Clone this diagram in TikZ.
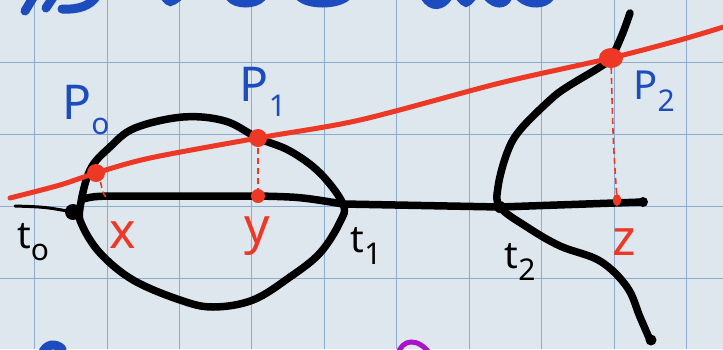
\documentclass[tikz,border=0pt]{standalone}
\usepackage{fontspec}
\setmainfont{Noto Sans}
\usepackage{xcolor}
\usepackage{tikz}
\usetikzlibrary{calc}
\definecolor{paper}{RGB}{223,231,238}
\definecolor{gridblue}{RGB}{140,172,205}
\definecolor{inkblue}{RGB}{28,76,190}
\definecolor{inkred}{RGB}{236,56,36}
\definecolor{inkpurple}{RGB}{170,20,200}
\newcommand{\hsub}[1]{\raisebox{-0.3em}{\fontsize{30}{30}\selectfont #1}}

\begin{document}
\begin{tikzpicture}[x=1pt,y=-1pt,
  gridline/.style={draw=gridblue,line width=0.7pt},
  ink/.style={draw=black,line width=7.5pt,line cap=round,line join=round},
  redink/.style={draw=inkred,line width=5pt,line cap=round},
  reddash/.style={draw=inkred,line width=1.6pt,dash pattern=on 6pt off 4pt},
  blueink/.style={draw=inkblue,line width=9pt,line cap=round},
  bluelbl/.style={text=inkblue,font=\fontsize{50}{50}\selectfont,inner sep=0pt},
  blacklbl/.style={text=black,font=\bfseries\fontsize{38}{38}\selectfont,inner sep=0pt},
  redlbl/.style={text=inkred,font=\bfseries\fontsize{50}{50}\selectfont,inner sep=0pt}
]
\fill[paper] (0,0) rectangle (723,349);
\useasboundingbox (0,0) rectangle (723,349);
\begin{scope}
\clip (0,0) rectangle (723,349);
\foreach \gx in {34.5,107,179,251,324,396,469,541,614,686}
  \draw[gridline] (\gx,0) -- (\gx,349);
\foreach \gy in {62,134,206,278}
  \draw[gridline] (0,\gy) -- (723,\gy);

\draw[blueink] (25,11) .. controls (30,3) .. (34,-4);
\draw[blueink] (46,8) .. controls (50,2) .. (54,-4);
\draw[blueink] (62,9) .. controls (80,10) and (90,5) .. (96,-3);
\draw[blueink] (165,-3) .. controls (170,3) .. (178,-3);
\draw[blueink] (230,-3) .. controls (236,5) and (255,5) .. (262,-3);
\draw[blueink] (300,-3) .. controls (310,5) and (335,5) .. (346,-3);
\draw[blueink] (425,-3) .. controls (432,8) and (442,6) .. (448,-3);
\draw[blueink] (460,-3) .. controls (466,4) .. (472,-3);
\draw[blueink] (488,-3) .. controls (496,5) and (504,5) .. (508,-3);
\draw[blueink] (520,-3) .. controls (530,6) and (545,4) .. (550,-3);
\draw[blueink] (42,354) .. controls (46,343) and (56,343) .. (62,349);
\draw[draw=inkpurple,line width=5pt] (398,354) .. controls (402,339) and (418,337) .. (430,354);

\coordinate (t0) at (73,212);
\coordinate (t1) at (343,204);
\coordinate (t2) at (500,207);
\coordinate (P0) at (96,173);
\coordinate (P1) at (258,138);
\coordinate (P2) at (611,58);
\coordinate (x) at (107,198);
\coordinate (y) at (258,196);
\coordinate (z) at (617,200);

\draw[black,line width=3pt,line cap=round] (15,206) .. controls (45,207) .. (t0);
\fill[black] (t0) circle (8);
\draw[ink] plot[smooth cycle,tension=0.6] coordinates {(80,208) (90,170) (110,147) (135,128) (183,117) (225,121) (P1) (290,151) (320,173) (t1) (340,222) (320,253) (290,277) (253,300) (213,307) (180,300) (133,280) (100,253) (82,225)};
\draw[ink] (83,199) .. controls (95,196) .. (140,196) -- (y) .. controls (300,197) .. (t1) -- (t2) -- (643,202);
\fill[black] (643,202) circle (5);
\draw[ink] plot[smooth,tension=0.6] coordinates {(630,13) (622,35) (P2) (600,67) (567,87) (550,100) (520,130) (507,153) (498,187) (t2) (527,227) (560,246) (600,261) (627,287) (640,317) (650,340)};
\fill[black] (t2) circle (6);
\fill[black] (651,340) circle (5.5);

\draw[redink] plot[smooth,tension=0.5] coordinates {(10,198) (60,185) (P0) (150,158) (P1) (360,120) (500,83) (P2) (680,40) (730,25)};
\draw[reddash] (P0) .. controls (104,185) and (100,192) .. (x);
\draw[reddash] (P1) -- (y);
\draw[reddash] (P2) .. controls (613,140) .. (z);
\fill[inkred] (P0) circle (9);
\fill[inkred] (P1) circle (9);
\fill[inkred] (P2) ellipse (12 and 10);
\fill[inkred] (y) circle (7);
\fill[inkred] (z) ellipse (4 and 6);
\end{scope}

\node[bluelbl,font=\bfseries\fontsize{48}{48}\selectfont] (lp0) at (86,110) {P\hsub{o}};
\node[bluelbl,font=\bfseries\fontsize{48}{48}\selectfont] (lp1) at (263,92) {P\hsub{1}};
\node[bluelbl,font=\bfseries\fontsize{40}{40}\selectfont] (lp2) at (654,91) {P\hsub{2}};
\node[blacklbl] (lt0) at (33,242) {t\hsub{o}};
\node[blacklbl] (lt1) at (366,246) {t\hsub{1}};
\node[blacklbl] (lt2) at (520,262) {t\hsub{2}};
\node[redlbl] (lx) at (123,235) {x};
\node[redlbl] (ly) at (257,236) {y};
\node[redlbl] (lz) at (624,242) {z};
\end{tikzpicture}
\end{document}
